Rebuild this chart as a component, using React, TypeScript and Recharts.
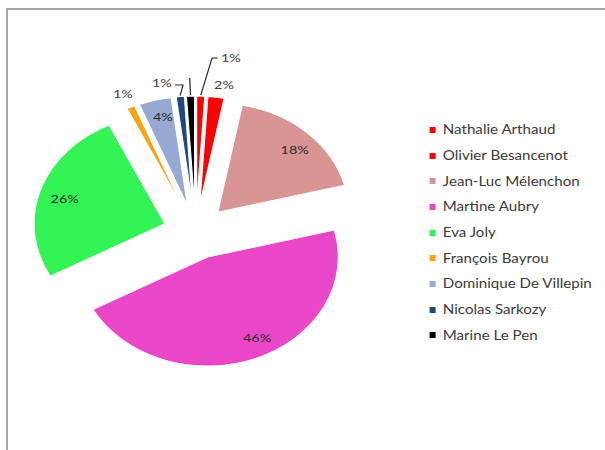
import React from 'react';
import { PieChart, Pie, Cell, Sector, Legend } from 'recharts';

const candidates = [
  'Nathalie Arthaud',
  'Olivier Besancenot',
  'Jean-Luc Mélenchon',
  'Martine Aubry',
  'Eva Joly',
  'François Bayrou',
  'Dominique De Villepin',
  'Nicolas Sarkozy',
  'Marine Le Pen',
];
const shares = [1, 2, 18, 46, 26, 1, 4, 1, 1];
const shownLabels = [true, true, true, true, true, true, true, true, false];

const COLORS = ['#ff0000', '#ff0000', '#d99594', '#ea47c8', '#33f455', '#f9a40e', '#95a9d3', '#1f497d', '#000000'];

// label placement around each exploded slice tip: r = distance, a = degrees clockwise from 12 o'clock
const LABEL_POS = [
  { r: 150, a: 11, elbow: { r: 147.6, a: 5 }, side: 'left' },
  { r: 122, a: 9.6 },
  { r: 90, a: 45.4 },
  { r: 90, a: 152.7 },
  { r: 87, a: 286.6 },
  { r: 124, a: 336.3 },
  { r: 92, a: 347.1 },
  { r: 125, a: 348.2, elbow: { r: 120.4, a: 356.2 }, side: 'right' },
  { r: 0, a: 0, elbow: { r: 127, a: 358.2 }, side: 'none' },
];

const data = candidates.map((name, i) => ({ name, value: shares[i] }));

const RAD = Math.PI / 180;
const EXPLODE = 27;
const FONT = 'Lato, "Open Sans", sans-serif';

const tipOf = (cx: number, cy: number, midAngle: number) => ({
  x: cx + EXPLODE * Math.cos(-midAngle * RAD),
  y: cy + EXPLODE * Math.sin(-midAngle * RAD),
});

const polar = (x: number, y: number, r: number, a: number) => ({
  x: x + r * Math.sin(a * RAD),
  y: y - r * Math.cos(a * RAD),
});

const ExplodedSector = (props: any) => {
  const t = tipOf(props.cx, props.cy, props.midAngle);
  return <Sector {...props} cx={t.x} cy={t.y} />;
};

const renderLabel = (props: any) => {
  const { cx, cy, midAngle, outerRadius, index } = props;
  const pos = LABEL_POS[index];
  const t = tipOf(cx, cy, midAngle);
  const p = polar(t.x, t.y, pos.r, pos.a);
  const mid = 90 - midAngle;
  let line = null;
  if (pos.elbow) {
    const s = polar(t.x, t.y, outerRadius + 1, mid);
    const e = polar(t.x, t.y, pos.elbow.r, pos.elbow.a);
    const pts = [`${s.x},${s.y}`, `${e.x},${e.y}`];
    if (pos.side === 'left') pts.push(`${p.x - 11},${e.y}`);
    if (pos.side === 'right') pts.push(`${p.x + 11},${e.y}`);
    line = <polyline points={pts.join(' ')} fill="none" stroke="#262626" strokeWidth={1} />;
  }
  const inside = pos.r > 0 && pos.r < outerRadius;
  return (
    <g key={`lbl-${index}`}>
      {line}
      {shownLabels[index] && (
        <text
          x={p.x}
          y={p.y}
          textAnchor="middle"
          dominantBaseline="central"
          fill={inside ? '#2a2a2a' : '#404040'}
          style={{ fontFamily: FONT, fontSize: 12 }}
        >
          {`${shares[index]}%`}
        </text>
      )}
    </g>
  );
};

// legend keeps the series order instead of recharts' sorted payload
const renderLegend = () => (
  <div style={{ fontFamily: FONT, fontSize: 12.6, color: '#3a3a3a' }}>
    {candidates.map((name, i) => (
      <div key={`leg-${i}`} style={{ display: 'flex', alignItems: 'center', height: 25.7 }}>
        <span style={{ display: 'inline-block', width: 5, height: 6, background: COLORS[i], marginRight: 6 }} />
        <span style={{ whiteSpace: 'nowrap' }}>{name}</span>
      </div>
    ))}
  </div>
);

export default function App() {
  return (
    <div style={{ position: 'absolute', left: 0, top: 0, width: 605, height: 450, overflow: 'hidden', background: '#fff' }}>
      <div
        style={{
          position: 'absolute',
          left: 6,
          top: 8,
          width: 800,
          height: 800,
          borderLeft: '2px solid #a6a6a6',
          borderTop: '2px solid #a6a6a6',
        }}
      />
      <div style={{ position: 'absolute', left: 0, top: 0, width: 504, height: 450, transform: 'scaleX(1.2)', transformOrigin: '0 0' }}>
        <PieChart width={504} height={450} margin={{ top: 0, right: 0, bottom: 0, left: 0 }}>
          <Pie
            data={data}
            dataKey="value"
            nameKey="name"
            cx={163}
            cy={232}
            outerRadius={109}
            startAngle={90}
            endAngle={-270}
            stroke="#ffffff"
            strokeWidth={1}
            shape={ExplodedSector}
            activeShape={ExplodedSector}
            inactiveShape={ExplodedSector}
            label={renderLabel}
            labelLine={false}
            isAnimationActive={false}
          >
            {data.map((d, i) => (
              <Cell key={d.name} fill={COLORS[i]} />
            ))}
          </Pie>
          <Legend
            layout="vertical"
            align="right"
            verticalAlign="top"
            content={renderLegend}
            wrapperStyle={{ left: 358, top: 117, width: 146 }}
          />
        </PieChart>
      </div>
    </div>
  );
}
